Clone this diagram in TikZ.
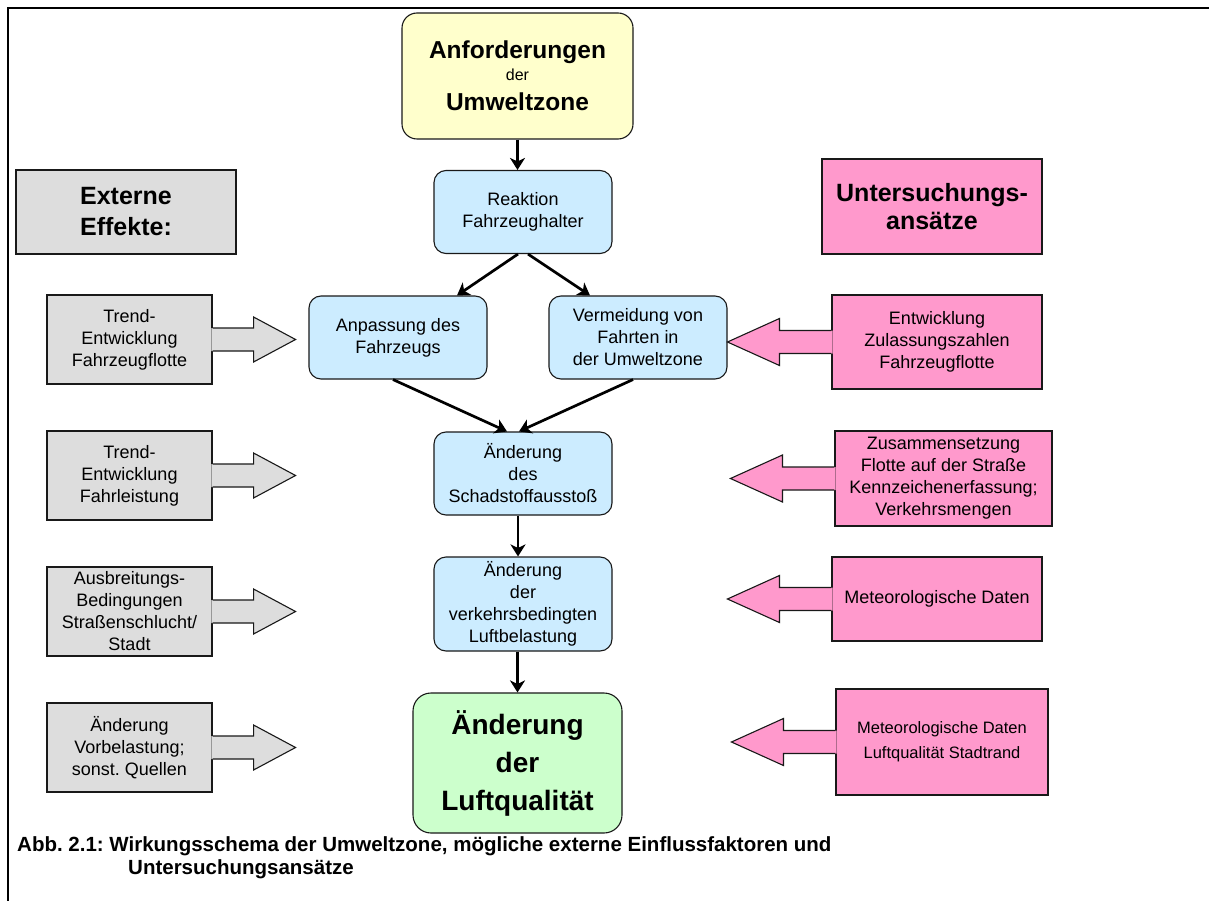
\documentclass[tikz,border=0pt]{standalone}
\usepackage{fontspec}
\setmainfont{Liberation Sans}
\usetikzlibrary{arrows.meta,calc}
\frenchspacing
\definecolor{yel}{HTML}{FFFFCC}
\definecolor{blu}{HTML}{CCECFF}
\definecolor{grn}{HTML}{CCFFCC}
\definecolor{gry}{HTML}{DDDDDD}
\definecolor{pnk}{HTML}{FF99CC}
\tikzset{
  bline/.style={draw=black!90, line width=1.1pt},
  rbox/.style={bline, rounded corners=12pt, inner sep=0pt, align=center, font=\fontsize{18}{22}\selectfont},
  bluebox/.style={rbox, fill=blu, minimum width=178pt, minimum height=83pt},
  sqbox/.style={bline, inner sep=0pt, align=center, font=\fontsize{18}{22}\selectfont},
  graybox/.style={sqbox, fill=gry, minimum width=165pt, minimum height=89pt},
  pinkbox/.style={sqbox, fill=pnk},
  flow/.style={line width=2.7pt, -{Stealth[length=12pt,width=15pt,inset=3.5pt]}},
  captxt/.style={anchor=base west, inner sep=0pt, font=\fontsize{20.5}{23}\selectfont\bfseries},
}
\newcommand\rightcallout[1]{%
  \fill[gry] ($(#1.east)+(-1.2,-11.5)$) -- ++(42.2,0) -- ++(0,-11) -- ++(42,22.5) -- ++(-42,22.5) -- ++(0,-11) -- ++(-42.2,0) -- cycle;
  \draw[bline] ($(#1.east)+(0,-11.5)$) -- ++(41,0) -- ++(0,-11) -- ++(42,22.5) -- ++(-42,22.5) -- ++(0,-11) -- ++(-41,0);
}
\newcommand\leftcallout[1]{%
  \fill[pnk] ($(#1.west)+(1.2,-11.5)$) -- ++(-53.2,0) -- ++(0,-12) -- ++(-52,23.5) -- ++(52,23.5) -- ++(0,-12) -- ++(53.2,0) -- cycle;
  \draw[bline] ($(#1.west)+(0,-11.5)$) -- ++(-52,0) -- ++(0,-12) -- ++(-52,23.5) -- ++(52,23.5) -- ++(0,-12) -- ++(52,0);
}
\begin{document}
\begin{tikzpicture}[x=1pt,y=-1pt]
\useasboundingbox (0,0) rectangle (1209,901);
\fill[white] (0,0) rectangle (1209,901);
% frame
\draw[line width=2.6pt] (8,901) -- (8,8) -- (1209,8);

% central column
\node[rbox, fill=yel, rounded corners=15pt, minimum width=231pt, minimum height=126pt,
      font=\fontsize{24.5}{27}\selectfont\bfseries] (anf) at (517.5,76)
  {Anforderungen\\[-5pt]{\fontsize{16}{16}\selectfont\mdseries der}\\[3pt]Umweltzone};
\node[bluebox] (reak) at (523,212) {Reaktion\\Fahrzeughalter};
\node[bluebox] (anp) at (398,337.5) {Anpassung des\\Fahrzeugs};
\node[bluebox] (verm) at (638,337.5) {Vermeidung von\\Fahrten in\\der Umweltzone};
\node[bluebox] (schad) at (523,473.5) {Änderung\\des\\Schadstoffausstoß};
\node[bluebox, minimum height=94pt] (luft) at (523,604) {Änderung\\der\\verkehrsbedingten\\Luftbelastung};
\node[rbox, fill=grn, rounded corners=18pt, minimum width=209pt, minimum height=140pt,
      font=\fontsize{28}{38}\selectfont\bfseries] (lq) at (517.5,763) {Änderung\\der\\Luftqualität};

% headings
\node[sqbox, fill=gry, minimum width=220pt, minimum height=84pt,
      font=\fontsize{25}{31}\selectfont\bfseries] (ext) at (126,212) {Externe\\Effekte:};
\node[sqbox, fill=pnk, minimum width=220pt, minimum height=95pt,
      font=\fontsize{25}{27.5}\selectfont\bfseries] (unt) at (932,206.5) {Untersuchungs-\\ansätze};

% external effects
\node[graybox] (g1) at (129.5,339.5) {Trend-\\Entwicklung\\Fahrzeugflotte};
\node[graybox] (g2) at (129.5,475.5) {Trend-\\Entwicklung\\Fahrleistung};
\node[graybox] (g3) at (129.5,611.5) {Ausbreitungs-\\Bedingungen\\Straßenschlucht/\\Stadt};
\node[graybox] (g4) at (129.5,747.5) {Änderung\\Vorbelastung;\\sonst. Quellen};
\rightcallout{g1}
\rightcallout{g2}
\rightcallout{g3}
\rightcallout{g4}

% investigation approaches
\node[pinkbox, minimum width=210pt, minimum height=94pt] (p1) at (937,342) {Entwicklung\\Zulassungszahlen\\Fahrzeugflotte};
\node[pinkbox, minimum width=217pt, minimum height=95pt] (p2) at (943.5,478.5) {Zusammensetzung\\Flotte auf der Straße\\Kennzeichenerfassung;\\Verkehrsmengen};
\node[pinkbox, minimum width=210pt, minimum height=84pt] (p3) at (937,599) {Meteorologische Daten};
\node[pinkbox, minimum width=212pt, minimum height=106pt, font=\fontsize{16.5}{25}\selectfont] (p4) at (942,742) {Meteorologische Daten\\Luftqualität Stadtrand};
\leftcallout{p1}
\leftcallout{p2}
\leftcallout{p3}
\leftcallout{p4}

% connectors
\draw[flow] (anf.south) -- (anf.south |- reak.north);
\draw[flow] ([xshift=-5pt]reak.south) -- ([xshift=59pt]anp.north);
\draw[flow] ([xshift=5pt]reak.south) -- ([xshift=-48pt]verm.north);
\draw[flow] ([xshift=-5pt]anp.south) -- ([xshift=-16pt]schad.north);
\draw[flow] ([xshift=-5pt]verm.south) -- ([xshift=-4pt]schad.north);
\draw[flow] ([xshift=-5pt]schad.south) -- ([xshift=-5pt]luft.north);
\draw[flow] (lq.north |- luft.south) -- (lq.north);

% caption
\node[captxt] (cap1) at (17,851) {Abb. 2.1: Wirkungsschema der Umweltzone, mögliche externe Einflussfaktoren und};
\node[captxt] (cap2) at (128,874) {Untersuchungsansätze};
\end{tikzpicture}
\end{document}
